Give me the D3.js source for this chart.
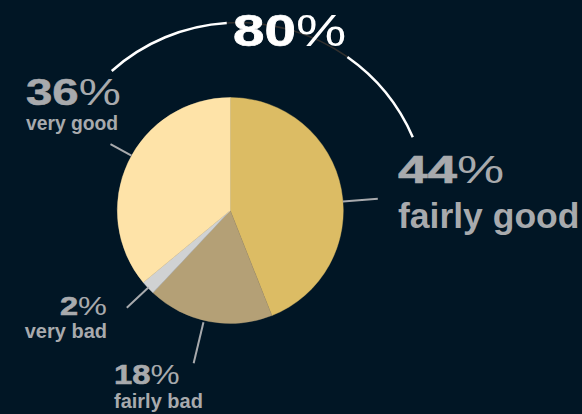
<!DOCTYPE html>
<html>
<head>
<meta charset="utf-8">
<script src="https://cdn.jsdelivr.net/npm/d3@7"></script>
<style>
  html, body { margin: 0; padding: 0; background: #011625; }
  svg { display: block; }
</style>
</head>
<body>
<div id="chart"></div>
<script>
// survey answers, clockwise from 12 o'clock
var categories = ["fairly good", "fairly bad", "very bad", "very good"];
var values = [44, 18, 2, 36];
var goodCategories = ["fairly good", "very good"];

var sliceColors = ["#dcbc64", "#b4a076", "#d0d2d3", "#fee3a8"];

var W = 582, H = 414;
var cx = 230.3, cy = 210.5, R = 113;
var bg = "#011625";
var labelGray = "#a8aaad";
var font = "'Liberation Sans', Arial, Helvetica, sans-serif";

// label layout per category (same order as categories)
var layout = [
  { x: 398, y: 183, anchor: "start", size: 39, sx: 1.36, sub: 35.5, subY: 228, tilt: 6.2, r0: 113, r1: 148 },
  { x: 114, y: 383.5, anchor: "start", size: 28, sx: 1.17, sub: 20, subY: 407.5, tilt: 2.7, r0: 115, r1: 157 },
  { x: 107, y: 315, anchor: "end", size: 25.6, sx: 1.27, sub: 20, subY: 338, tilt: 0, r0: 112, r1: 142 },
  { x: 26, y: 105, anchor: "start", size: 37, sx: 1.28, sub: 19.3, subY: 129.5, tilt: 3.8, r0: 113, r1: 137 },
];

var svg = d3.select("#chart").append("svg")
  .attr("width", W)
  .attr("height", H);

svg.append("rect").attr("width", W).attr("height", H).attr("fill", bg);

var pie = d3.pie().sort(null).value(function(d) { return d; });
var arcs = pie(values);

var arc = d3.arc().innerRadius(0).outerRadius(R);

var g = svg.append("g").attr("transform", "translate(" + cx + "," + cy + ")");

g.selectAll("path.slice")
  .data(arcs)
  .enter().append("path")
  .attr("class", "slice")
  .attr("d", arc)
  .attr("fill", function(d, i) { return sliceColors[i]; })
  .attr("stroke", function(d, i) { return sliceColors[i]; })
  .attr("stroke-width", 0.4);

function polar(a, r) {
  return [r * Math.sin(a), -r * Math.cos(a)];
}

// leader lines
arcs.forEach(function(d, i) {
  var L = layout[i];
  var a = (d.startAngle + d.endAngle) / 2 + L.tilt * Math.PI / 180;
  var p0 = polar(a, L.r0);
  var p1 = polar(a, L.r1);
  g.append("line")
    .attr("x1", p0[0]).attr("y1", p0[1])
    .attr("x2", p1[0]).attr("y2", p1[1])
    .attr("stroke", labelGray)
    .attr("stroke-width", 2);
});

// labels
categories.forEach(function(name, i) {
  var L = layout[i];
  var t = svg.append("text")
    .attr("transform", "translate(" + L.x + "," + L.y + ") scale(" + L.sx + ",1)")
    .attr("text-anchor", L.anchor)
    .attr("font-family", font)
    .attr("font-size", L.size)
    .attr("fill", labelGray);
  t.append("tspan").attr("font-weight", "bold")
    .attr("stroke", labelGray).attr("stroke-width", 0.6)
    .text(values[i]);
  t.append("tspan").attr("font-weight", "normal").text("%");

  svg.append("text")
    .attr("x", L.x)
    .attr("y", L.subY)
    .attr("text-anchor", L.anchor)
    .attr("font-family", font)
    .attr("font-weight", "bold")
    .attr("font-size", L.sub)
    .attr("fill", labelGray)
    .text(name);
});

// headline arc with the "good" total
var goodTotal = d3.sum(categories, function(c, i) {
  return goodCategories.indexOf(c) >= 0 ? values[i] : 0;
});

var acx = 238.4, acy = 212.6, AR = 190;
var deg = Math.PI / 180;
var bigArc = d3.arc().innerRadius(AR).outerRadius(AR);
var ag = svg.append("g").attr("transform", "translate(" + acx + "," + acy + ")");

[[-41.8, -3.5], [35, 66.6]].forEach(function(seg) {
  ag.append("path")
    .attr("d", bigArc({ startAngle: seg[0] * deg, endAngle: seg[1] * deg }))
    .attr("fill", "none")
    .attr("stroke", "#ffffff")
    .attr("stroke-width", 2.5)
    .attr("stroke-linecap", "round");
});

var head = svg.append("text")
  .attr("transform", "translate(233,45.5) scale(1.3,1)")
  .attr("font-family", font)
  .attr("font-size", 43.5)
  .attr("fill", "#ffffff");
head.append("tspan").attr("font-weight", "bold")
  .attr("stroke", "#ffffff").attr("stroke-width", 0.7)
  .text(goodTotal);
head.append("tspan").attr("font-weight", "normal").text("%");

// faint trace of the arc running over the headline
ag.append("path")
  .attr("d", bigArc({ startAngle: -3.5 * deg, endAngle: 35 * deg }))
  .attr("fill", "none")
  .attr("stroke", "#5a4636")
  .attr("stroke-opacity", 0.55)
  .attr("stroke-width", 1.5);
</script>
</body>
</html>
